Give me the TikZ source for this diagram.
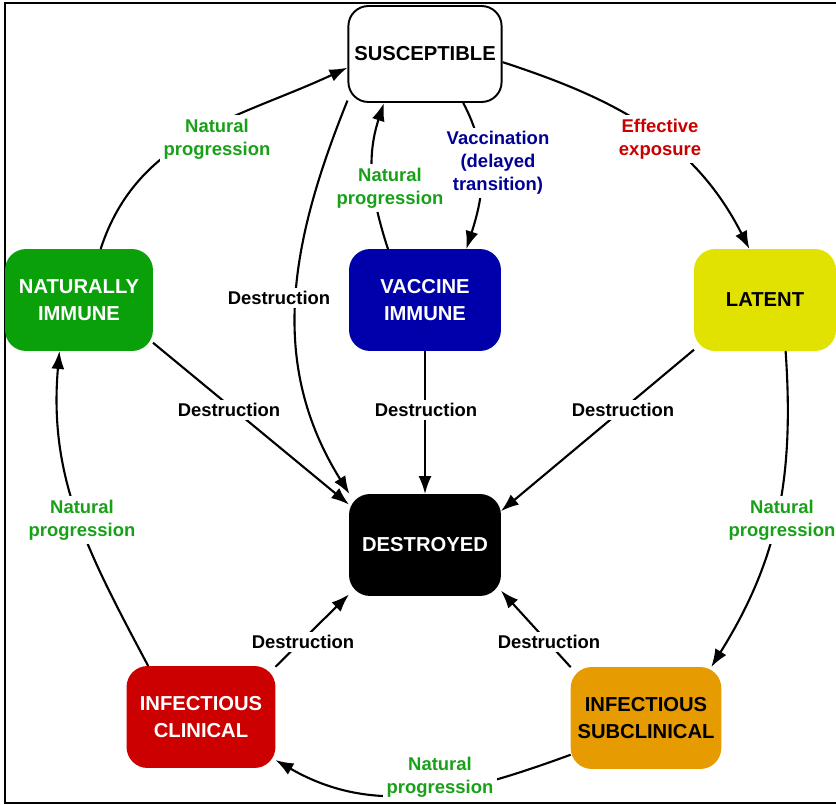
\documentclass[tikz,border=0pt]{standalone}
\usepackage{fontspec}
\setmainfont{Liberation Sans}
\usetikzlibrary{arrows.meta}
\definecolor{natgreen}{RGB}{10,160,10}
\definecolor{vacblue}{RGB}{0,0,170}
\definecolor{latyellow}{RGB}{226,226,0}
\definecolor{clinred}{RGB}{204,0,0}
\definecolor{suborange}{RGB}{230,155,0}
\definecolor{txtgreen}{RGB}{25,160,25}
\definecolor{txtblue}{RGB}{0,0,150}
\definecolor{txtred}{RGB}{200,0,0}
\tikzset{
  state/.style={draw=black,line width=1.1pt,rectangle,rounded corners=0.4cm,align=center,font=\fontsize{11.5}{15}\selectfont\bfseries},
  lbl/.style={fill=white,inner sep=2pt,align=center,font=\fontsize{10.5}{13}\selectfont\bfseries},
  flow/.style={line width=1.2pt,-{Latex[length=3.6mm,width=2.6mm]}}
}
\begin{document}
\begin{tikzpicture}[x=0.02cm,y=-0.02cm]
        \useasboundingbox (0,0) rectangle (836,805);
        %% Frame
        \draw[line width=1.3pt] (5,3) rectangle (850,803);
        %% States
        \node[state,fill=white,minimum width=3cm,minimum height=1.92cm] (sus) at (425,54) {SUSCEPTIBLE};
        \node[state,fill=natgreen,draw=natgreen,text=white,minimum width=2.92cm,minimum height=2cm] (nat) at (79,300) {NATURALLY\\IMMUNE};
        \node[state,fill=vacblue,draw=vacblue,text=white,minimum width=3cm,minimum height=2cm] (vac) at (425,300) {VACCINE\\IMMUNE};
        \node[state,fill=latyellow,draw=latyellow,minimum width=2.8cm,minimum height=2cm] (lat) at (765,300) {LATENT};
        \node[state,fill=black,text=white,minimum width=3cm,minimum height=2cm] (des) at (425,545) {DESTROYED};
        \node[state,fill=clinred,draw=clinred,text=white,minimum width=2.94cm,minimum height=2cm] (clin) at (201,717) {INFECTIOUS\\CLINICAL};
        \node[state,fill=suborange,draw=suborange,minimum width=2.96cm,minimum height=2cm] (sub) at (646,718) {INFECTIOUS\\SUBCLINICAL};
        %% Transitions
        \draw[flow] (nat.67) to[out=72,in=205] (sus.190);
        \draw[flow] (sus.-6) to[out=-18,in=117] (lat.107);
        \draw[flow] (sus.-52) to[out=-62,in=72] (vac.51);
        \draw[flow] (vac.126) to[out=108,in=252] (sus.230);
        \draw[flow] (sus.211) to[out=-112,in=122] (des.146);
        \draw[flow] (nat.-30) -- (des.152);
        \draw[flow] (vac.south) -- (des.north);
        \draw[flow] (lat.215) -- (des.24);
        \draw[flow] (lat.-68) to[out=-86,in=58] (sub.38);
        \draw[flow] (sub.206) to[out=200,in=-30] (clin.-30);
        \draw[flow] (clin.136) to[out=118,in=-95] (nat.249);
        \draw[flow] (clin.34) -- (des.213);
        \draw[flow] (sub.146) -- (des.-31);
        %% Labels
        \node[lbl,text=txtgreen] (lnatsus) at (217,139) {Natural\\progression};
        \node[lbl,text=txtred] (lexp) at (660,139) {Effective\\exposure};
        \node[lbl,text=txtblue] (lvacc) at (498,163) {Vaccination\\(delayed\\transition)};
        \node[lbl,text=txtgreen] (lvacsus) at (390,188) {Natural\\progression};
        \node[lbl] (ldsus) at (279,298) {Destruction};
        \node[lbl] (ldnat) at (229,410) {Destruction};
        \node[lbl] (ldvac) at (426,410) {Destruction};
        \node[lbl] (ldlat) at (623,410) {Destruction};
        \node[lbl,text=txtgreen] (lclinnat) at (82,520) {Natural\\progression};
        \node[lbl,text=txtgreen] (llatsub) at (782,520) {Natural\\progression};
        \node[lbl] (ldclin) at (303,642) {Destruction};
        \node[lbl] (ldsub) at (549,642) {Destruction};
        \node[lbl,text=txtgreen] (lsubclin) at (440,777) {Natural\\progression};
\end{tikzpicture}
\end{document}
